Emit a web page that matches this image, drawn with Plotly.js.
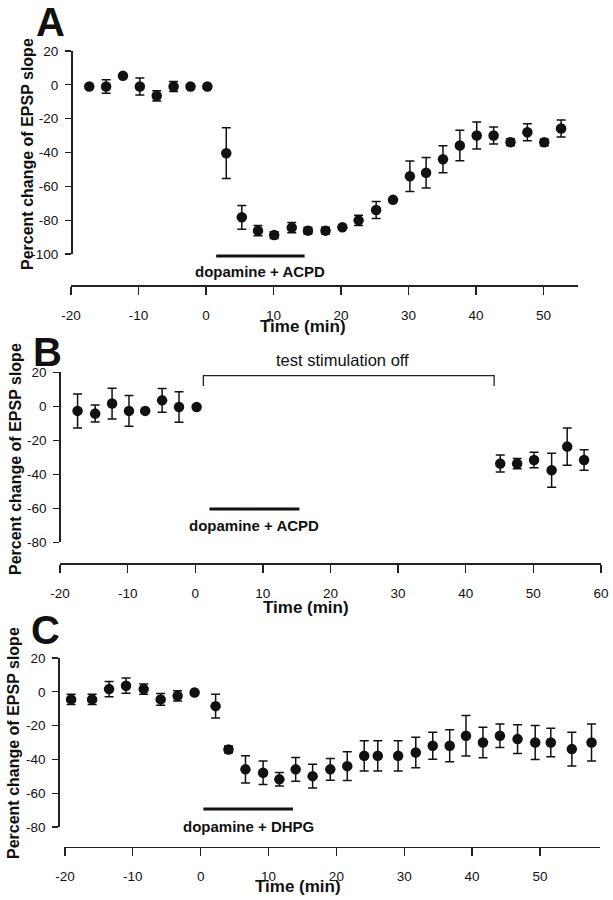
<!DOCTYPE html>
<html>
<head>
<meta charset="utf-8">
<script src="https://cdn.plot.ly/plotly-3.0.1.min.js"></script>
<style>
  html, body { margin: 0; padding: 0; background: #fff; }
  #chart { width: 613px; height: 900px; }
</style>
</head>
<body>
<div id="chart"></div>
<script>
// Panel A: dopamine + ACPD
const tiempoA = [-17.3, -14.8, -12.3, -9.8, -7.3, -4.8, -2.3, 0.2, 3.0, 5.3, 7.7, 10.1, 12.7, 15.1, 17.7, 20.2,
    22.6, 25.2, 27.7, 30.2, 32.6, 35.1, 37.6, 40.1, 42.6, 45.1, 47.6, 50.1, 52.6];
const valorA = [-1, -1, 5.3, -1, -6.5, -1, -1, -1, -40.4, -78.3, -86.2, -88.8, -84.4, -86.2, -86.2, -84.2,
    -80.1, -74, -68, -54, -52, -44, -35.9, -30, -30, -33.9, -28, -34, -25.8];
const errorA = [0, 4, 0, 5, 3, 3, 0, 0, 15, 7, 3, 2, 3, 2, 2, 0,
    3, 5, 0, 9, 9, 8, 9, 8, 5, 2, 5, 2, 5];
const drogaA = [1.5, 14.6];

// Panel B: test stimulation off
const tiempoB = [-17.4, -14.8, -12.3, -9.8, -7.4, -4.9, -2.4, 0.2, 45.1, 47.6, 50.1, 52.7, 55.0, 57.5];
const valorB = [-2.7, -4.3, 1.6, -2.7, -2.7, 3.5, -0.4, -0.4, -33.7, -33.7, -31.6, -37.6, -23.7, -31.6];
const errorB = [10, 5, 9, 9, 0, 7, 9, 0, 5, 3, 4.5, 10, 11, 6];
const drogaB = [2.1, 15.4];
const estimOff = [1.2, 44.2];

// Panel C: dopamine + DHPG
const tiempoC = [-19.1, -16.0, -13.5, -11.0, -8.4, -5.9, -3.4, -0.9, 2.2, 4.1, 6.6, 9.2, 11.6, 14.0, 16.5,
    19.1, 21.6, 24.1, 26.1, 29.1, 31.7, 34.2, 36.7, 39.1, 41.6, 44.1, 46.7, 49.3, 51.6, 54.7, 57.6];
const valorC = [-4.5, -4.5, 1.6, 3.6, 1.6, -4.5, -2.4, -0.4, -8.5, -34.1, -45.9, -47.9, -51.8, -45.9, -49.9,
    -45.9, -44, -37.9, -37.9, -37.9, -35.9, -31.9, -31.9, -26, -30, -26, -28, -30, -30, -33.9, -30];
const errorC = [3, 3, 4.5, 4.5, 3, 3.5, 3, 0, 7, 2, 8, 7, 4, 7, 7,
    6.5, 8.5, 9, 9, 9, 9, 8, 9.5, 12, 9, 7, 8.5, 10, 8.5, 10, 11];
const drogaC = [0.4, 13.6];

const ticksX = [-20, -10, 0, 10, 20, 30, 40, 50, 60];
const ticksYA = [-100, -80, -60, -40, -20, 0, 20];
const ticksYBC = [-80, -60, -40, -20, 0, 20];

const W = 613, H = 900;
const fuente = 'Liberation Sans, Arial, Helvetica, sans-serif';
const px = v => v / W;
const py = v => 1 - v / H;

function trazo(x, y, err, ejeX, ejeY) {
    return {
        x: x, y: y, xaxis: ejeX, yaxis: ejeY,
        type: 'scatter', mode: 'markers', cliponaxis: false,
        marker: { color: '#111', size: 10.5 },
        error_y: { type: 'data', array: err, visible: true, color: '#111', thickness: 1.5, width: 4.5 },
        showlegend: false, hoverinfo: 'skip'
    };
}

// guion normal en las etiquetas, como en la figura original
function ejeX(dom, rango, pos, vals) {
    return {
        domain: [px(dom[0]), px(dom[1])], range: rango, anchor: 'free', position: py(pos),
        showline: true, linecolor: '#222', linewidth: 1.5, showgrid: false, zeroline: false,
        ticks: 'outside', ticklen: 8, tickwidth: 1.3, tickcolor: '#222',
        tickmode: 'array', tickvals: vals, ticktext: vals.map(String), ticklabelstandoff: 9,
        tickfont: { family: fuente, size: 13.5, color: '#111' }
    };
}

function ejeY(dom, rango, pos, vals) {
    return {
        domain: [py(dom[1]), py(dom[0])], range: rango, anchor: 'free', position: px(pos),
        showline: true, linecolor: '#222', linewidth: 1.5, showgrid: false, zeroline: false,
        ticks: 'outside', ticklen: 6, tickwidth: 1.3, tickcolor: '#222',
        tickmode: 'array', tickvals: vals, ticktext: vals.map(String), ticklabelstandoff: 4,
        tickfont: { family: fuente, size: 13.5, color: '#111' }
    };
}

const data = [
    trazo(tiempoA, valorA, errorA, 'x', 'y'),
    trazo(tiempoB, valorB, errorB, 'x2', 'y2'),
    trazo(tiempoC, valorC, errorC, 'x3', 'y3')
];

// barra de aplicación de droga (yref paper, recortada solo en x)
function barra(droga, eje, yPx) {
    return {
        type: 'line', xref: eje, yref: 'paper', x0: droga[0], x1: droga[1], y0: py(yPx), y1: py(yPx),
        line: { color: '#111', width: 3 }
    };
}

function etiqueta(texto, xPx, yPx, opts) {
    return Object.assign({
        text: texto, xref: 'paper', yref: 'paper', x: px(xPx), y: py(yPx),
        xanchor: 'center', yanchor: 'middle', showarrow: false,
        font: { family: fuente, size: 15, color: '#111' }
    }, opts || {});
}

function etiquetaDroga(texto, droga, eje, yPx) {
    return {
        text: texto, xref: eje, yref: 'paper', x: (droga[0] + droga[1]) / 2, y: py(yPx),
        xanchor: 'center', yanchor: 'middle', showarrow: false,
        font: { family: fuente, size: 15, color: '#111', weight: 'bold' }
    };
}

const tituloY = 'Percent change of EPSP slope';
const negrita = (size) => ({ family: fuente, size: size, color: '#111', weight: 'bold' });

const layout = {
    width: W, height: H,
    margin: { l: 0, r: 0, t: 0, b: 0 },
    paper_bgcolor: '#fff', plot_bgcolor: 'rgba(0,0,0,0)',
    showlegend: false,
    xaxis: ejeX([71, 578], [-20, 55.1], 285, ticksX.slice(0, 8)),
    yaxis: ejeY([51, 254], [-100, 20], 71, ticksYA),
    xaxis2: ejeX([60, 601], [-20, 60], 563.3, ticksX),
    yaxis2: ejeY([372.3, 542.3], [-80, 20], 59.3, ticksYBC),
    xaxis3: ejeX([64.3, 600], [-20.1, 58.85], 846.7, ticksX.slice(0, 8)),
    yaxis3: ejeY([658, 827], [-80, 20], 58.3, ticksYBC),
    shapes: [
        barra(drogaA, 'x', 256),
        barra(drogaB, 'x2', 509),
        barra(drogaC, 'x3', 809),
        {
            type: 'path', xref: 'x2', yref: 'y2',
            path: `M ${estimOff[0]},12 L ${estimOff[0]},18 L ${estimOff[1]},18 L ${estimOff[1]},12`,
            line: { color: '#222', width: 1.3 }
        }
    ],
    annotations: [
        etiqueta('A', 50, 22, { font: negrita(40) }),
        etiqueta('B', 47, 352, { font: negrita(40) }),
        etiqueta('C', 45, 630, { font: negrita(40) }),
        etiqueta(tituloY, 27, 154, { textangle: -90, font: negrita(16) }),
        etiqueta(tituloY, 15, 459, { textangle: -90, font: negrita(16) }),
        etiqueta(tituloY, 13, 743, { textangle: -90, font: negrita(16) }),
        etiqueta('Time (min)', 303, 327, { font: negrita(17) }),
        etiqueta('Time (min)', 306, 607, { font: negrita(17) }),
        etiqueta('Time (min)', 298, 886, { font: negrita(17) }),
        etiqueta('test stimulation off', 342, 360, { font: { family: fuente, size: 16.5, color: '#111' } }),
        etiquetaDroga('dopamine + ACPD', drogaA, 'x', 272),
        etiquetaDroga('dopamine + ACPD', drogaB, 'x2', 525.7),
        etiquetaDroga('dopamine + DHPG', drogaC, 'x3', 826)
    ]
};

Plotly.newPlot('chart', data, layout, { staticPlot: true, displayModeBar: false });
</script>
</body>
</html>
